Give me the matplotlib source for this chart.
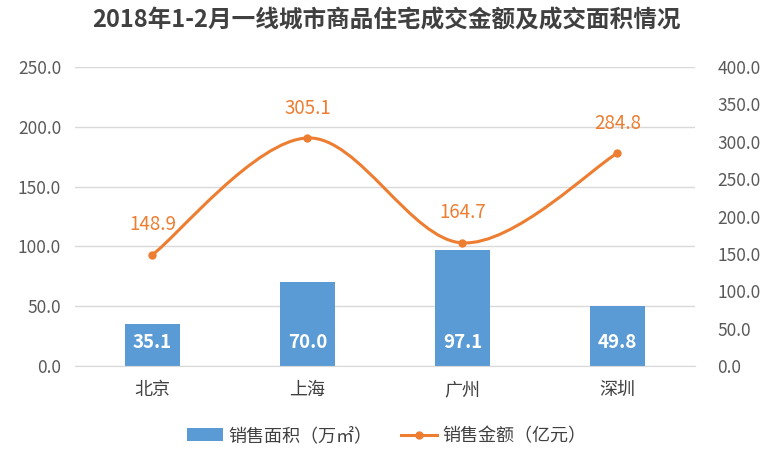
import numpy as np
import matplotlib
matplotlib.use("Agg")
import matplotlib.pyplot as plt
from matplotlib.path import Path
from matplotlib.patches import PathPatch
from matplotlib.lines import Line2D
from matplotlib.patches import Patch

plt.rcParams['font.family'] = ['Noto Sans CJK SC', 'DejaVu Sans']

cities = ["北京", "上海", "广州", "深圳"]
area = [35.1, 70.0, 97.1, 49.8]        # 销售面积（万㎡）
amount = [148.9, 305.1, 164.7, 284.8]  # 销售金额（亿元）
left_ticks = [0, 50, 100, 150, 200, 250]
right_ticks = [0, 50, 100, 150, 200, 250, 300, 350, 400]

blue = "#5B9BD5"
orange = "#ED7D31"
grid_c = "#D9D9D9"
tick_c = "#595959"

fig = plt.figure(figsize=(7.73, 4.59), dpi=100)
ax = fig.add_axes([0.097, 0.2026, 0.802, 0.6514])
ax2 = ax.twinx()

x = np.arange(len(cities))
ax.bar(x, area, width=0.36, color=blue, zorder=2)
for xi, v in zip(x, area):
    ax.text(xi, 20, f"{v:.1f}", color="white", fontsize=13.5, fontweight="bold",
            ha="center", va="center", zorder=3)

ax.set_xlim(-0.5, len(cities) - 0.5)
ax.set_ylim(0, 250)
ax.set_yticks(left_ticks)
ax.set_yticklabels([f"{t:.1f}" for t in left_ticks])
ax.yaxis.grid(True, color=grid_c, linewidth=1, zorder=0)
ax.set_axisbelow(True)
ax.set_xticks(x)
ax.set_xticklabels(cities, fontsize=13, color="#404040")
ax.tick_params(axis="x", length=0, pad=11)
ax.tick_params(axis="y", length=0, labelsize=12.5, labelcolor=tick_c, pad=10)
for s in ["top", "right", "left"]:
    ax.spines[s].set_visible(False)
ax.spines["bottom"].set_color(grid_c)

ax2.set_ylim(0, 400)
ax2.set_yticks(right_ticks)
ax2.set_yticklabels([f"{t:.1f}" for t in right_ticks])
ax2.tick_params(axis="y", length=0, labelsize=12.5, labelcolor=tick_c, pad=16)
for s in ax2.spines.values():
    s.set_visible(False)

# smooth line (Excel-style bezier through the points)
pts = np.column_stack([x, amount]).astype(float)
verts = [tuple(pts[0])]
codes = [Path.MOVETO]
n = len(pts)
for i in range(n - 1):
    p0 = pts[i - 1] if i > 0 else pts[i]
    p1 = pts[i]
    p2 = pts[i + 1]
    p3 = pts[i + 2] if i + 2 < n else pts[i + 1]
    c1 = p1 + (p2 - p0) / 6.0
    c2 = p2 - (p3 - p1) / 6.0
    verts += [tuple(c1), tuple(c2), tuple(p2)]
    codes += [Path.CURVE4] * 3
ax2.add_patch(PathPatch(Path(verts, codes), facecolor="none", edgecolor=orange,
                        linewidth=2.2, zorder=3))
ax2.plot(x, amount, "o", color=orange, markersize=5, zorder=4)
for xi, v in zip(x, amount):
    ax2.annotate(f"{v:.1f}", (xi, v), xytext=(0, 14), textcoords="offset points",
                 ha="center", va="bottom", fontsize=13.5, color=orange)

fig.text(0.5, 0.955, "2018年1-2月一线城市商品住宅成交金额及成交面积情况",
         ha="center", va="center", fontsize=17, fontweight="bold", color="#404040")

handles = [Patch(facecolor=blue, edgecolor="none"),
           Line2D([0], [0], color=orange, linewidth=2.2, marker="o", markersize=5)]
fig.legend(handles, ["销售面积（万㎡）", "销售金额（亿元）"], loc="center",
           bbox_to_anchor=(0.5, 0.05), ncol=2, frameon=False, fontsize=13,
           handlelength=2.0, columnspacing=1.6, handletextpad=0.3)
for t in fig.legends[0].get_texts():
    t.set_color("#404040")

fig.savefig("out.png", dpi=100)
